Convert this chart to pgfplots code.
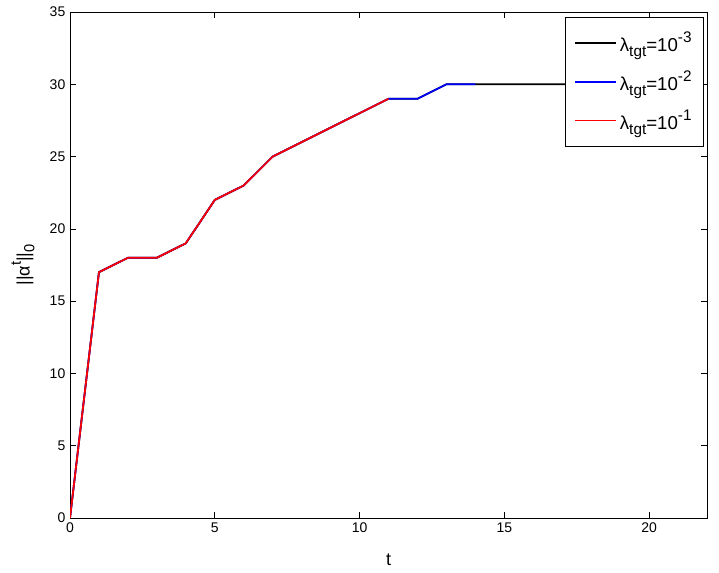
\documentclass[border=0pt]{standalone}
\usepackage{pgfplots}
\pgfplotsset{compat=1.18}
\usetikzlibrary{calc}
\usepackage{fontspec}
\setmainfont{Liberation Sans}
\newcommand\sub[1]{\raisebox{-0.5ex}{\fontsize{11.5}{12}\selectfont #1}}
\newcommand\sups[1]{\raisebox{0.9ex}{\fontsize{11.5}{12}\selectfont #1}}
\newcommand\lsub[1]{\raisebox{-0.5ex}{\fontsize{11}{12}\selectfont #1}}
\newcommand\lsups[1]{\raisebox{0.9ex}{\fontsize{11}{12}\selectfont #1}}
\pgfplotsset{legend image code/.code={\draw[mark repeat=2,mark phase=2,#1] plot coordinates {(0pt,0pt) (15pt,0pt) (31pt,0pt)};}}
\begin{document}
\begin{tikzpicture}[font=\fontsize{10.5}{12}\selectfont]
\begin{axis}[
  name=ax,
  scale only axis,
  width=477.75pt, height=379.5pt,
  xmin=0, xmax=22, ymin=0, ymax=35,
  xtick={0,5,10,15,20}, ytick={0,5,...,35},
  tick align=inside,
  major tick length=4.5pt,
  /pgf/number format/assume math mode=true,
  tick label style={font=\fontsize{10.5}{12}\selectfont},
  label style={font=\fontsize{13.5}{15}\selectfont},
  xlabel={t}, ylabel={||α\lsups{t}||\lsub{0}},
  xlabel style={at={(axis description cs:0.5,-0.083)},anchor=center},
  ylabel style={at={(axis description cs:-0.0738,0.5)},anchor=center},
  axis line style={line width=0.6pt},
  every tick/.style={black,line width=0.5pt},
  legend cell align=left,
  legend style={at={(rel axis cs:0.994,0.99)},anchor=north east,
    row sep=9pt, inner xsep=6.5pt, inner ysep=9pt,
    font=\fontsize{14}{15}\selectfont},
  legend columns=1,
]
\addplot[black, line width=1.3pt] coordinates {(0,0) (1,17) (2,18) (3,18) (4,19) (5,22) (6,23) (7,25) (11,29) (12,29) (13,30) (14,30) (20,30)};
\addlegendentry{λ\sub{tgt}=10\sups{-3}}
\addplot[blue, line width=1.3pt] coordinates {(0,0) (1,17) (2,18) (3,18) (4,19) (5,22) (6,23) (7,25) (11,29) (12,29) (13,30) (14,30)};
\addlegendentry{λ\sub{tgt}=10\sups{-2}}
\addplot[red, line width=1.3pt] coordinates {(0,0) (1,17) (2,18) (3,18) (4,19) (5,22) (6,23) (7,25) (11,29)};
\addlegendentry{λ\sub{tgt}=10\sups{-1}}
\end{axis}
\pgfresetboundingbox
\path ($(ax.south west)+(-52.5pt,-41.25pt)$) rectangle ($(ax.north east)+(9pt,9pt)$);
\end{tikzpicture}
\end{document}
